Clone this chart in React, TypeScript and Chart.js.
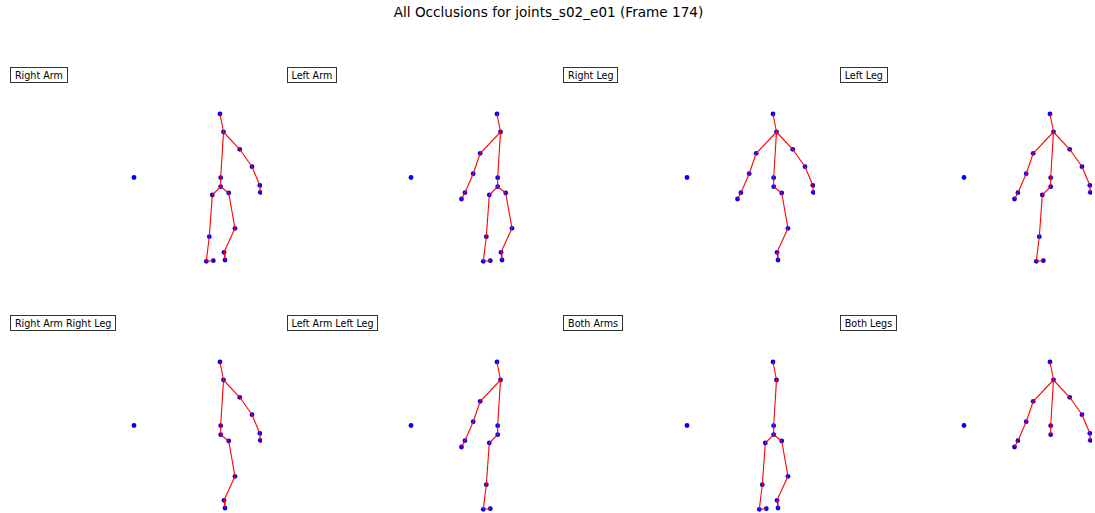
import React, { useEffect, useRef } from "react";
import { Chart, registerables } from "chart.js";

Chart.register(...registerables);

const FIGURE_TITLE = "All Occlusions for joints_s02_e01 (Frame 174)";

// Joint names and 2D coordinates
const jointNames = [
  "head", "neck", "spine", "pelvis",
  "shoulderL", "elbowL", "wristL", "handL",
  "shoulderR", "elbowR", "wristR", "handR",
  "hipL", "kneeL", "ankleL", "footL",
  "hipR", "kneeR", "ankleR", "footR",
  "origin",
];
const jointX = [
  0.86, 0.895, 0.867, 0.867,
  0.692, 0.622, 0.539, 0.505,
  1.057, 1.18, 1.258, 1.263,
  0.783, 0.753, 0.723, 0.793,
  0.947, 1.01, 0.9, 0.91,
  0.0,
];
const jointY = [
  0.635, 0.455, -0.002, -0.092,
  0.242, 0.038, -0.152, -0.215,
  0.282, 0.108, -0.078, -0.148,
  -0.175, -0.592, -0.838, -0.832,
  -0.155, -0.508, -0.748, -0.825,
  0.0,
];

// Bones as pairs of joint indices
const boneFrom = [0, 1, 2, 1, 4, 5, 6, 1, 8, 9, 10, 3, 12, 13, 14, 3, 16, 17, 18];
const boneTo = [1, 2, 3, 4, 5, 6, 7, 8, 9, 10, 11, 12, 13, 14, 15, 16, 17, 18, 19];

// Body part groups
const coreJoints = [0, 1, 2, 3, 20];
const leftArmJoints = [4, 5, 6, 7];
const rightArmJoints = [8, 9, 10, 11];
const leftLegJoints = [12, 13, 14, 15];
const rightLegJoints = [16, 17, 18, 19];

const panelTitles = [
  "Right Arm", "Left Arm", "Right Leg", "Left Leg",
  "Right Arm Right Leg", "Left Arm Left Leg", "Both Arms", "Both Legs",
];
const panelVisible = [
  [...coreJoints, ...rightArmJoints, ...leftLegJoints, ...rightLegJoints],
  [...coreJoints, ...leftArmJoints, ...leftLegJoints, ...rightLegJoints],
  [...coreJoints, ...leftArmJoints, ...rightArmJoints, ...rightLegJoints],
  [...coreJoints, ...leftArmJoints, ...rightArmJoints, ...leftLegJoints],
  [...coreJoints, ...rightArmJoints, ...rightLegJoints],
  [...coreJoints, ...leftArmJoints, ...leftLegJoints],
  [...coreJoints, ...leftLegJoints, ...rightLegJoints],
  [...coreJoints, ...leftArmJoints, ...rightArmJoints],
];

const X_MIN = -1.34;
const Y_MAX = 0.875;
const UNIT = 100; // px per data unit
const COL_STEP = 276.6;
const ROW_STEP = 248;
const CANVAS_TOP = 90;
const CANVAS_W = 262;
const CANVAS_H = [180, 175];

function Panel({ index }: { index: number }) {
  const ref = useRef<HTMLCanvasElement | null>(null);
  const col = index % 4;
  const row = Math.floor(index / 4);
  const left = col * COL_STEP;
  const top = CANVAS_TOP + row * ROW_STEP;
  const h = CANVAS_H[row];

  useEffect(() => {
    if (!ref.current) return;
    const visible = new Set(panelVisible[index]);
    const datasets: any[] = [];
    for (let b = 0; b < boneFrom.length; b++) {
      const a = boneFrom[b];
      const c = boneTo[b];
      if (!visible.has(a) || !visible.has(c)) continue;
      datasets.push({
        type: "line",
        data: [
          { x: jointX[a], y: jointY[a] },
          { x: jointX[c], y: jointY[c] },
        ],
        borderColor: "#ff0000",
        borderWidth: 1.1,
        pointRadius: 0,
        fill: false,
        clip: false,
        order: 1,
      });
    }
    const pts = panelVisible[index].map((j) => ({ x: jointX[j], y: jointY[j] }));
    datasets.push({
      type: "scatter",
      data: pts,
      backgroundColor: "#0000ff",
      borderColor: "#0000ff",
      borderWidth: 0,
      pointRadius: 2.4,
      clip: false,
      order: 2,
    });
    const chart = new Chart(ref.current, {
      type: "scatter",
      data: { datasets },
      options: {
        animation: false,
        responsive: false,
        maintainAspectRatio: false,
        devicePixelRatio: 1,
        layout: { padding: 0, autoPadding: false },
        plugins: { legend: { display: false }, tooltip: { enabled: false }, title: { display: false } },
        events: [],
        scales: {
          x: { type: "linear", min: X_MIN, max: X_MIN + CANVAS_W / UNIT, display: false },
          y: { type: "linear", min: Y_MAX - h / UNIT, max: Y_MAX, display: false },
        },
      },
    });
    return () => chart.destroy();
  }, [index, h]);

  return (
    <>
      <canvas
        ref={ref}
        width={CANVAS_W}
        height={h}
        style={{ position: "absolute", left, top, width: CANVAS_W, height: h }}
      />
      <div
        style={{
          position: "absolute",
          left: left + 10,
          top: 66.7 + row * ROW_STEP,
          border: "1px solid #333",
          padding: "2px 3.9px 1.7px 3.9px",
          fontFamily: "'DejaVu Sans', sans-serif",
          fontSize: "9.6px",
          lineHeight: "11px",
          color: "#000",
          background: "#fff",
          whiteSpace: "nowrap",
        }}
      >
        {panelTitles[index]}
      </div>
    </>
  );
}

export default function App() {
  return (
    <div
      style={{
        position: "fixed",
        left: 0,
        top: 0,
        width: 1095,
        height: 513,
        overflow: "hidden",
        background: "#fff",
      }}
    >
      <div
        style={{
          position: "absolute",
          left: 0,
          width: 1097,
          top: 5.8,
          textAlign: "center",
          fontFamily: "'DejaVu Sans', sans-serif",
          fontSize: "13.6px",
          lineHeight: "13.6px",
          color: "#000",
          whiteSpace: "nowrap",
        }}
      >
        {FIGURE_TITLE}
      </div>
      {panelTitles.map((_, i) => (
        <Panel key={i} index={i} />
      ))}
    </div>
  );
}
